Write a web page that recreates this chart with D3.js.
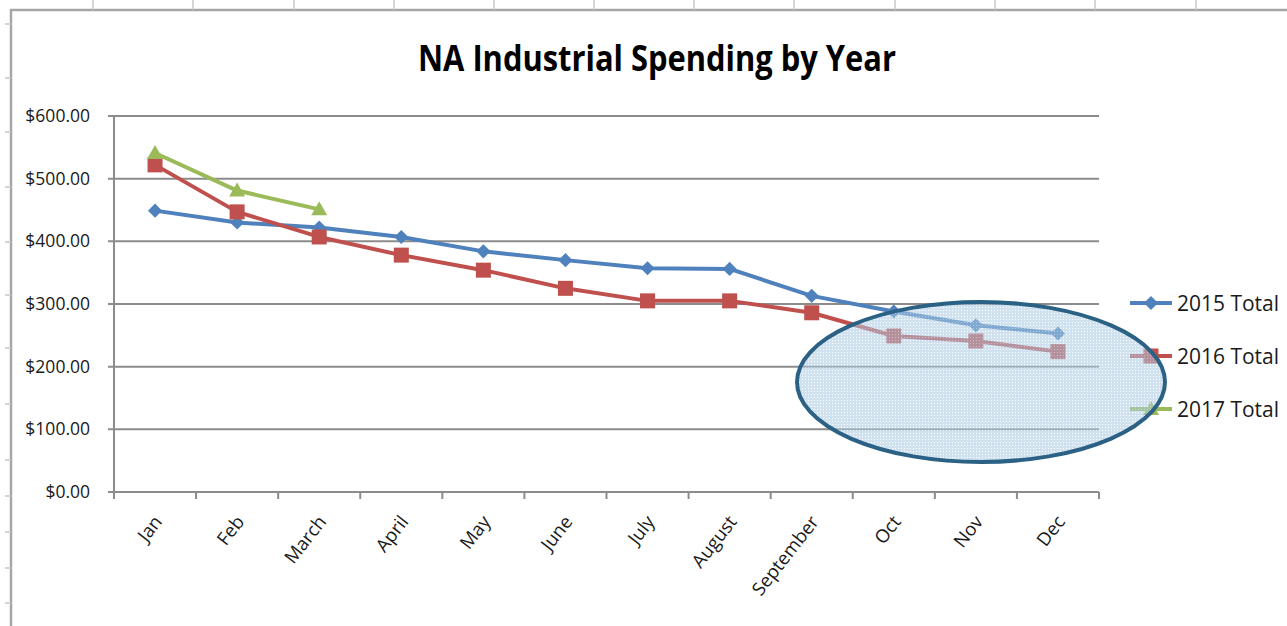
<!DOCTYPE html>
<html>
<head>
<meta charset="utf-8">
<script src="https://cdn.jsdelivr.net/npm/d3@7"></script>
<style>
  body { margin: 0; background: #fff; }
  text { font-family: "Open Sans", "Noto Sans", sans-serif; fill: #1a1a1a; }
  .grid line { stroke: #8c8c8c; stroke-width: 2; }
  .frame { stroke: #a6a6a6; stroke-width: 2.5; fill: none; }
</style>
</head>
<body>
<script>
// chart data
var months = ["Jan", "Feb", "March", "April", "May", "June", "July", "August", "September", "Oct", "Nov", "Dec"];
var total2015 = [449, 430, 422, 407, 384, 370, 357, 356, 313, 288, 266, 253];
var total2016 = [522, 447, 407, 378, 354, 325, 305, 305, 286, 249, 241, 224];
var total2017 = [541, 481, 451];
var yTicks = [0, 100, 200, 300, 400, 500, 600];
var seriesNames = ["2015 Total", "2016 Total", "2017 Total"];

// spreadsheet column / row boundaries visible around the chart object
var sheetCols = [93, 193, 294, 394, 494, 594, 694, 794, 895, 995, 1095, 1196];
var sheetRows = [24, 78, 132, 187, 242, 295, 348, 404, 460, 496, 532, 568, 603];

var W = 1287, H = 626;
var margin = {top: 116, right: 188, bottom: 134, left: 114};

var svg = d3.select("body").append("svg")
    .attr("width", W)
    .attr("height", H);

// pattern for the highlight ellipse
var defs = svg.append("defs");
var pat = defs.append("pattern")
    .attr("id", "dots")
    .attr("width", 3).attr("height", 3)
    .attr("patternUnits", "userSpaceOnUse");
pat.append("rect").attr("width", 3).attr("height", 3).attr("fill", "#a9c9e4");
pat.append("rect").attr("x", 1).attr("y", 1).attr("width", 1).attr("height", 1).attr("fill", "#ffffff");

// sheet frame
svg.append("path").attr("class", "frame").attr("d", "M11," + H + "V10H" + W);
svg.selectAll(".colTick").data(sheetCols).enter().append("line")
    .attr("class", "frame")
    .attr("x1", function(d) { return d; }).attr("x2", function(d) { return d; })
    .attr("y1", 0).attr("y2", 10)
    .style("stroke-width", 1.5).style("stroke", "#c8c8c8");
svg.selectAll(".rowTick").data(sheetRows).enter().append("line")
    .attr("class", "frame")
    .attr("y1", function(d) { return d; }).attr("y2", function(d) { return d; })
    .attr("x1", 5).attr("x2", 11)
    .style("stroke-width", 1.5).style("stroke", "#c8c8c8");

var x = d3.scaleBand()
    .domain(months)
    .range([margin.left, W - margin.right])
    .padding(0);

var y = d3.scaleLinear()
    .domain([0, 600])
    .range([H - margin.bottom, margin.top]);

function cx(i) { return x(months[i]) + x.bandwidth() / 2; }

// gridlines
var grid = svg.append("g").attr("class", "grid");
grid.selectAll("line").data(yTicks).enter().append("line")
    .attr("x1", margin.left - 6)
    .attr("x2", W - margin.right)
    .attr("y1", function(d) { return y(d); })
    .attr("y2", function(d) { return y(d); });

// y axis line
svg.append("line")
    .attr("x1", margin.left).attr("x2", margin.left)
    .attr("y1", y(600)).attr("y2", y(0) + 7)
    .style("stroke", "#8c8c8c").style("stroke-width", 2);

// y labels
svg.selectAll(".ylab").data(yTicks).enter().append("text")
    .attr("x", 90)
    .attr("y", function(d) { return y(d); })
    .attr("dy", "0.35em")
    .attr("text-anchor", "end")
    .style("font-size", "17.5px")
    .text(function(d) { return "$" + d3.format(".2f")(d); });

// x ticks
svg.selectAll(".xtick").data(d3.range(months.length + 1)).enter().append("line")
    .attr("x1", function(i) { return margin.left + i * x.bandwidth(); })
    .attr("x2", function(i) { return margin.left + i * x.bandwidth(); })
    .attr("y1", y(0)).attr("y2", y(0) + 7)
    .style("stroke", "#8c8c8c").style("stroke-width", 2);

// x labels
svg.selectAll(".xlab").data(months).enter().append("text")
    .attr("text-anchor", "end")
    .attr("transform", function(d, i) {
      return "translate(" + (cx(i) + 8) + "," + (y(0) + 30) + ") rotate(-52)";
    })
    .style("font-size", "18.5px")
    .text(function(d) { return d; });

// title
svg.append("text")
    .attr("x", 418)
    .attr("y", 71)
    .attr("textLength", 478)
    .attr("lengthAdjust", "spacingAndGlyphs")
    .style("font-size", "36px")
    .style("font-weight", "bold")
    .style("fill", "#000")
    .text("NA Industrial Spending by Year");

var series = [
  {name: seriesNames[0], values: total2015, color: "#4f81bd", shape: "diamond"},
  {name: seriesNames[1], values: total2016, color: "#c0504d", shape: "square"},
  {name: seriesNames[2], values: total2017, color: "#9bbb59", shape: "triangle"}
];

var line = d3.line()
    .x(function(d, i) { return cx(i); })
    .y(function(d) { return y(d); });

function marker(sel, shape, color) {
  if (shape === "diamond") {
    sel.append("rect").attr("x", -5).attr("y", -5).attr("width", 10).attr("height", 10)
      .attr("transform", "rotate(45)").attr("fill", color);
  } else if (shape === "square") {
    sel.append("rect").attr("x", -7.5).attr("y", -7.5).attr("width", 15).attr("height", 15)
      .attr("fill", color);
  } else {
    sel.append("path").attr("d", "M0,-8L8,6L-8,6Z").attr("fill", color);
  }
}

series.forEach(function(s) {
  svg.append("path")
      .datum(s.values)
      .attr("fill", "none")
      .attr("stroke", s.color)
      .attr("stroke-width", 4)
      .attr("stroke-linejoin", "round")
      .attr("d", line);

  svg.selectAll(null).data(s.values).enter().append("g")
      .attr("transform", function(d, i) { return "translate(" + cx(i) + "," + y(d) + ")"; })
      .each(function() { marker(d3.select(this), s.shape, s.color); });
});

// legend
var legend = svg.selectAll(".legend").data(series).enter().append("g")
    .attr("transform", function(d, i) { return "translate(1130," + (303 + i * 53) + ")"; });

legend.append("line")
    .attr("x1", 0).attr("x2", 42)
    .attr("stroke", function(d) { return d.color; })
    .attr("stroke-width", 4);

legend.append("g")
    .attr("transform", "translate(21,0)")
    .each(function(d) { marker(d3.select(this), d.shape, d.color); });

legend.append("text")
    .attr("x", 47)
    .attr("dy", "0.36em")
    .attr("textLength", 102)
    .attr("lengthAdjust", "spacingAndGlyphs")
    .style("font-size", "22px")
    .text(function(d) { return d.name; });

// highlight ellipse drawn on top
svg.append("ellipse")
    .attr("cx", 981)
    .attr("cy", 382)
    .attr("rx", 184)
    .attr("ry", 80)
    .attr("fill", "url(#dots)")
    .attr("fill-opacity", 0.55)
    .attr("stroke", "#2a6184")
    .attr("stroke-width", 4);
</script>
</body>
</html>
